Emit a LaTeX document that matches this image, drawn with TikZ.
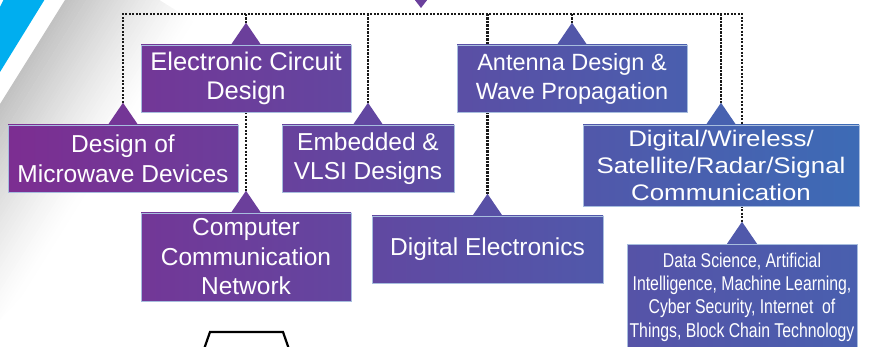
\documentclass[tikz,border=0pt]{standalone}
\usepackage{fontspec}
\setmainfont{Liberation Sans}
\newfontfamily\wideface[FakeStretch=1.15]{Liberation Sans}
\newfontfamily\narrowface[FakeStretch=0.79]{Liberation Sans}
\definecolor{PL}{RGB}{125,45,145}
\definecolor{PR}{RGB}{60,108,182}
\definecolor{cyanband}{RGB}{0,174,239}
\pgfdeclarelayer{bg}
\pgfsetlayers{bg,main}
\newcommand\upmark[3][15]{\fill[#3] ([xshift=-#1pt]#2.north) -- ([yshift=22pt]#2.north) -- ([xshift=#1pt]#2.north) -- cycle;}
\begin{document}
\begin{tikzpicture}[x=1pt,y=-1pt,
  box/.style={inner sep=0pt, text=white, align=center,
    font=\fontsize{24.5}{29.5}\selectfont, draw=white!55!PR, line width=0.5pt},
  dotline/.style={line width=2.3pt, dash pattern=on 2.1pt off 1.4pt, color=black!90}]
\useasboundingbox (0,0) rectangle (869,347);
\clip (0,0) rectangle (869,347);

% boxes
\node[box, minimum width=230pt, minimum height=67pt, left color=PR!1!PL, right color=PR!27!PL] (mw) at (123,158.5) {Design of\\Microwave Devices};
\node[box, minimum width=210pt, minimum height=67pt, left color=PR!16!PL, right color=PR!40!PL, font=\fontsize{25.5}{29.5}\selectfont] (ec) at (246,78.5) {Electronic Circuit\\Design};
\node[box, minimum width=210pt, minimum height=88pt, left color=PR!16!PL, right color=PR!40!PL] (cc) at (246,257) {Computer\\Communication\\Network};
\node[box, minimum width=172pt, minimum height=67pt, left color=PR!32!PL, right color=PR!52!PL] (emb) at (368,158.5) {Embedded \&\\VLSI Designs};
\node[box, minimum width=230pt, minimum height=67pt, left color=PR!53!PL, right color=PR!79!PL, font=\fontsize{23.5}{29}\selectfont] (ant) at (572,78.5) {Antenna Design \&\\Wave Propagation};
\node[box, minimum width=231pt, minimum height=67pt, left color=PR!43!PL, right color=PR!69!PL] (de) at (487.5,249.5) {Digital Electronics};
\node[box, minimum width=276pt, minimum height=81pt, left color=PR!67!PL, right color=PR!99!PL, font=\wideface\fontsize{22.5}{27}\selectfont] (dw) at (721,165.5) {Digital/Wireless/\\Satellite/Radar/Signal\\Communication};
\node[box, minimum width=230pt, minimum height=106pt, left color=PR!60!PL, right color=PR!80!PL, font=\narrowface\fontsize{20}{23.3}\selectfont] (ds) at (742,297) {Data Science, Artificial\\Intelligence, Machine Learning,\\Cyber Security, Internet\ \ of\\Things, Block Chain Technology};

% pointers
\upmark{mw}{PR!14!PL}
\upmark{ec}{PR!28!PL}
\upmark{cc}{PR!28!PL}
\upmark{emb}{PR!42!PL}
\upmark{ant}{PR!66!PL}
\upmark{de}{PR!56!PL}
\upmark{dw}{PR!83!PL}
\upmark{ds}{PR!70!PL}
\fill[PR!30!PL] (411,-5) -- (431,-5) -- (421,8) -- cycle;

\draw[line width=2.2pt] (203,352) -- (210,332) -- (283,332) -- (290,352);

\begin{pgfonlayer}{bg}
  \begin{scope}
    \clip (65,0) -- (0,104) -- (0,320) -- (300,0) -- cycle;
    \begin{scope}[shift={(65,0)}, rotate=-32]
      \foreach \i in {0,...,39} {
        \pgfmathsetmacro\g{48*(1-\i/40)^1.3}
        \fill[gray!\g] (\i*3,-50) rectangle (\i*3+3.4,400);
      }
    \end{scope}
  \end{scope}
  \fill[cyanband] (4,-1) -- (45,-1) -- (0,72) -- (0,7) -- cycle;

  \coordinate (busL) at (123,14);
  \coordinate (busR) at (742,14);
  \draw[dotline] ([yshift=22pt]mw.north) -- (busL) -- (busR) -- ([yshift=22pt]ds.north);
  \draw[dotline] (ec.north |- busL) -- ([yshift=22pt]ec.north);
  \draw[dotline] (ec.south) -- ([yshift=22pt]cc.north);
  \draw[dotline] (emb.north |- busL) -- ([yshift=22pt]emb.north);
  \draw[dotline] (ant.north |- busL) -- ([yshift=22pt]ant.north);
  \draw[dotline] (de.north |- busL) -- ([yshift=22pt]de.north);
  \draw[dotline] (dw.north |- busL) -- ([yshift=22pt]dw.north);
\end{pgfonlayer}
\end{tikzpicture}
\end{document}
